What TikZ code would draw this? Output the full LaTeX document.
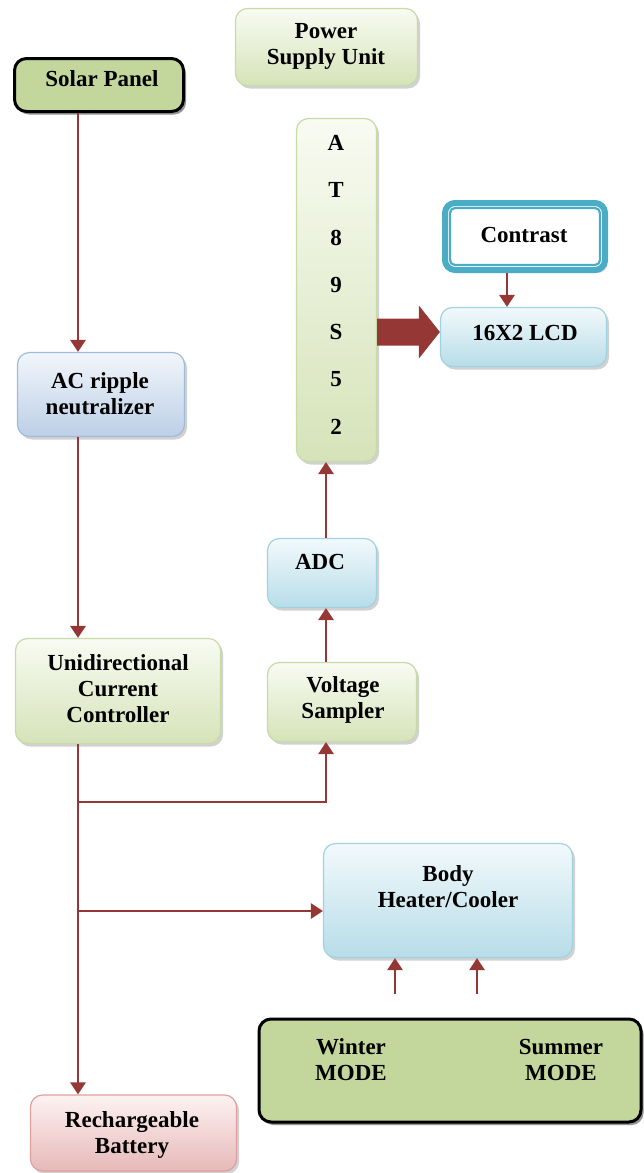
\documentclass[tikz,border=0pt]{standalone}
\usepackage{fontspec}
\setmainfont{Liberation Serif}
\usetikzlibrary{arrows.meta,shadows,calc}

\definecolor{wire}{RGB}{149,55,53}
\definecolor{grnline}{RGB}{200,218,165}
\definecolor{grntop}{RGB}{248,251,242}
\definecolor{grnbot}{RGB}{214,227,185}
\definecolor{bluline}{RGB}{160,210,225}
\definecolor{blutop}{RGB}{242,249,252}
\definecolor{blubot}{RGB}{183,221,232}
\definecolor{lavline}{RGB}{160,186,218}
\definecolor{lavtop}{RGB}{242,246,251}
\definecolor{lavbot}{RGB}{188,207,230}
\definecolor{pnkline}{RGB}{222,160,158}
\definecolor{pnktop}{RGB}{253,242,242}
\definecolor{pnkbot}{RGB}{230,185,184}
\definecolor{olive}{RGB}{195,214,155}
\definecolor{teal}{RGB}{75,172,198}

\begin{document}
\begin{tikzpicture}[x=1pt,y=-1pt,
  box/.style={draw, rounded corners=12pt, line width=1.2pt, inner sep=0pt,
    drop shadow={shadow xshift=2.5pt, shadow yshift=-3pt, opacity=.3, fill=black!60}},
  greenbox/.style={box, draw=grnline, top color=grntop, bottom color=grnbot},
  bluebox/.style={box, draw=bluline, top color=blutop, bottom color=blubot},
  lavbox/.style={box, draw=lavline, top color=lavtop, bottom color=lavbot},
  pinkbox/.style={box, draw=pnkline, top color=pnktop, bottom color=pnkbot},
  olivebox/.style={box, draw=black, line width=3pt, fill=olive,
    drop shadow={shadow xshift=2.5pt, shadow yshift=-3pt, opacity=.45, fill=black!70}},
  txt/.style={font=\fontsize{23}{26}\selectfont\bfseries, align=center, inner sep=0pt},
  conn/.style={draw=wire, line width=2.8pt, -{Triangle[length=12pt,width=15pt]}},
  wireline/.style={draw=wire, line width=2.8pt}]

\useasboundingbox (0,0) rectangle (643,1173);

% ---- blocks ----
\node[olivebox, minimum width=169, minimum height=53] (solar) at (99,85) {};
\node[txt] (solart) at (102,79) {Solar Panel};

\node[greenbox, minimum width=182, minimum height=77] (psu) at (326.5,47) {};
\node[txt] (psut) at (326,46) {Power\\Supply Unit};

\node[greenbox, minimum width=80, minimum height=343] (mcu) at (336.5,290) {};
\foreach \ch [count=\i from 0] in {A,T,8,9,S,5,2}
  \node[txt] (mcu\i) at (336,143+47.3*\i) {\ch};

\node[box, draw=teal, line width=6pt, fill=white, rounded corners=10pt,
      minimum width=160, minimum height=67] (contrast) at (525,236.5) {};
\draw[teal, line width=2.2pt, rounded corners=5pt]
  ($(contrast.south west)+(8,-8)$) rectangle ($(contrast.north east)+(-8,8)$);
\node[txt] (contrastt) at (524,235) {Contrast};

\node[bluebox, minimum width=166, minimum height=59] (lcd) at (523.5,337) {};
\node[txt] (lcdt) at (525,333) {16X2 LCD};

\node[lavbox, minimum width=167, minimum height=84] (ac) at (101,394.5) {};
\node[txt] (act) at (100,393.5) {AC ripple\\neutralizer};

\node[greenbox, minimum width=205, minimum height=105] (ucc) at (118,691) {};
\node[txt] (ucct) at (118,689) {Unidirectional\\Current\\Controller};

\node[bluebox, minimum width=109, minimum height=69] (adc) at (322,573) {};
\node[txt] (adct) at (320,562) {ADC};

\node[greenbox, minimum width=149, minimum height=79] (vs) at (342,702) {};
\node[txt] (vst) at (343,700) {Voltage\\Sampler};

\node[bluebox, minimum width=249, minimum height=114] (body) at (448,900.5) {};
\node[txt] (bodyt) at (448,887) {Body\\Heater/Cooler};

\node[olivebox, minimum width=382, minimum height=103] (mode) at (450,1070.5) {};
\node[txt] (winter) at (351,1060) {Winter\\MODE};
\node[txt] (summer) at (561,1060) {Summer\\MODE};

\node[pinkbox, minimum width=206, minimum height=76] (bat) at (133.5,1133) {};
\node[txt] (batt) at (132,1135) {Rechargeable\\Battery};

% ---- connectors ----
\coordinate (trunk) at (78,0);
\coordinate (col) at (326,0);
\draw[conn] (solar.south -| trunk) -- (ac.north -| trunk);
\draw[conn] (ac.south -| trunk) -- (ucc.north -| trunk);
\draw[conn] (ucc.south -| trunk) -- (bat.north -| trunk);

\coordinate (j1) at (78,802);
\coordinate (j2) at (78,911);
\draw[conn] (j1) -| (vs.south -| col);
\draw[conn] (j2) -- (body.west |- j2);

\draw[conn] (vs.north -| col) -- (adc.south -| col);
\draw[conn] (adc.north -| col) -- (mcu.south -| col);

\draw[conn] (contrast.south -| 507,0) -- (lcd.north -| 507,0);

\coordinate (wsrc) at (395,994);
\coordinate (ssrc) at (477,994);
\draw[conn] (wsrc) -- (wsrc |- body.south);
\draw[conn] (ssrc) -- (ssrc |- body.south);

% wide bus arrow from the controller into the display
\coordinate (busS) at (mcu.east |- 0,332);
\coordinate (busE) at (lcd.west |- 0,332);
\fill[wire] ($(busS)+(0,-13.5)$) -- ($(busE)+(-21,-13.5)$) -- ($(busE)+(-21,-26.5)$)
  -- (busE) -- ($(busE)+(-21,26.5)$) -- ($(busE)+(-21,13.5)$) -- ($(busS)+(0,13.5)$) -- cycle;
\end{tikzpicture}
\end{document}
